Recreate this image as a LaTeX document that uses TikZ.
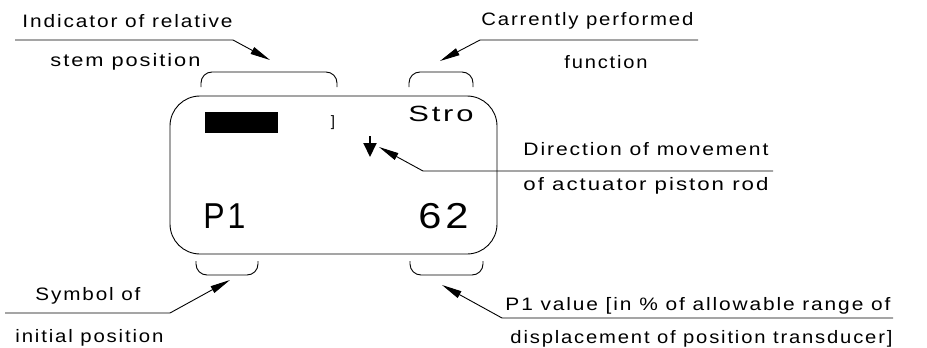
\documentclass[tikz,border=0pt]{standalone}
\usepackage{fontspec}
\usepackage{graphicx}
\usepackage{tikz}
\usetikzlibrary{positioning,arrows.meta}
\newfontfamily\cadfont[LetterSpace=9]{Liberation Sans}
% stretch a text to a given width, height kept
\newcommand{\cadtext}[2]{\resizebox{#1pt}{\height}{#2}}

\begin{document}
\begin{tikzpicture}[x=1pt, y=-1pt, line width=0.9pt,
    >={Triangle[length=20pt, width=7.5pt]}]
  \tikzstyle{lbl}=[anchor=west, inner sep=0pt, font=\cadfont\fontsize{18}{18}\selectfont]
  \tikzstyle{big}=[anchor=west, inner sep=0pt, font=\cadfont\fontsize{36}{36}\selectfont]
  \tikzstyle{brk}=[rounded corners=11pt]
  \tikzstyle{lead}=[->]

  \useasboundingbox (0,0) rectangle (927,348);

  % display
  \draw[rounded corners=30pt] (170,96) rectangle (497,254);
  \fill (205,112) rectangle (278,133);
  \node[anchor=center, inner sep=0pt, font=\cadfont\fontsize{15}{15}\selectfont] (brkt) at (333,123) {]};
  \node[anchor=west, inner sep=0pt, font=\cadfont\fontsize{22}{22}\selectfont] (stro) at (408,114) {\cadtext{65}{Stro}};
  \node[big] (pone) at (203,216) {\cadtext{42}{P1}};
  \node[big] (val) at (418,216) {\cadtext{50}{62}};
  \coordinate (dirtop) at (370,136);
  \coordinate (dirbot) at (370,157);
  \draw[-{Triangle[length=14pt 0, width=13pt 0]}, line width=2pt] (dirtop) -- (dirbot);

  % brackets
  \draw[brk] (201,87) -- (201,72) -- (337,72) -- (337,87);
  \draw[brk] (409,87) -- (409,72) -- (473,72) -- (473,87);
  \draw[brk] (196,261) -- (196,275) -- (258,275) -- (258,261);
  \draw[brk] (410,261) -- (410,275) -- (483,275) -- (483,261);

  % labels
  \node[lbl] (ind1) at (22,21)  {\cadtext{210}{Indicator of relative}};
  \node[lbl] (ind2) at (50,62)  {\cadtext{150}{stem position}};
  \node[lbl] (fun1) at (481,21) {\cadtext{212}{Carrently performed}};
  \node[lbl] (fun2) at (564,62) {\cadtext{83}{function}};
  \node[lbl] (dir1) at (523,149) {\cadtext{245}{Direction of movement}};
  \node[lbl] (dir2) at (523,186) {\cadtext{245}{of actuator piston rod}};
  \node[lbl] (sym1) at (35,296) {\cadtext{105}{Symbol of}};
  \node[lbl] (sym2) at (15,338) {\cadtext{148}{initial position}};
  \node[lbl] (pv1) at (505,306) {\cadtext{385}{P1 value [in \% of allowable range of}};
  \node[lbl] (pv2) at (510,339) {\cadtext{382}{displacement of position transducer]}};

  % leaders
  \coordinate (indA) at (15,40);   \coordinate (indB) at (233,40);  \coordinate (indT) at (270,60);
  \coordinate (funA) at (698,40);  \coordinate (funB) at (480,40);  \coordinate (funT) at (440,61);
  \coordinate (dirA) at (773,171); \coordinate (dirB) at (423,171); \coordinate (dirT) at (379,147);
  \coordinate (symA) at (5,313);   \coordinate (symB) at (170,313); \coordinate (symT) at (230,280);
  \coordinate (pvA) at (893,318);  \coordinate (pvB) at (502,318);  \coordinate (pvT) at (442,285);

  \draw[lead] (indA) -- (indB) -- (indT);
  \draw[lead] (funA) -- (funB) -- (funT);
  \draw[lead] (dirA) -- (dirB) -- (dirT);
  \draw[lead] (symA) -- (symB) -- (symT);
  \draw[lead] (pvA) -- (pvB) -- (pvT);
\end{tikzpicture}
\end{document}
